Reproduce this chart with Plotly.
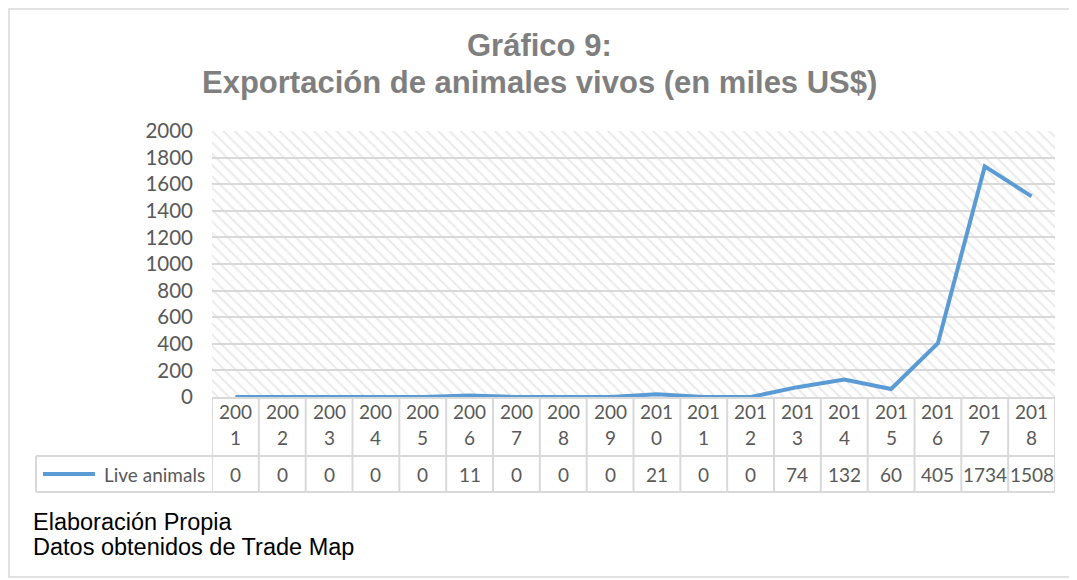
import plotly.graph_objects as go

# ---------------- data ----------------
years = ["2001", "2002", "2003", "2004", "2005", "2006", "2007", "2008", "2009",
         "2010", "2011", "2012", "2013", "2014", "2015", "2016", "2017", "2018"]
live_animals = [0, 0, 0, 0, 0, 11, 0, 0, 0, 21, 0, 0, 74, 132, 60, 405, 1734, 1508]
series_name = "Live animals"
y_ticks = [0, 200, 400, 600, 800, 1000, 1200, 1400, 1600, 1800, 2000]
title_line1 = "Gráfico 9:"
title_line2 = "Exportación de animales vivos (en miles US$)"
foot1 = "Elaboración Propia"
foot2 = "Datos obtenidos de Trade Map"

# ---------------- layout geometry (page pixels) ----------------
W, H = 1077, 580
OFF = 8  # default page body margin
PL, PR, PT, PB = 212, 1055, 131, 397  # plot area in page pixels
pw, ph = PR - PL, PB - PT


def px(x):
    return (x - PL) / pw


def py(y):
    return (PB - y) / ph


BLUE = "#5b9bd5"
GRID = "#d9d9d9"
TXT = "#595959"
FONT = "Lato"
TSIZE = 19

n = len(years)
xs = list(range(n))

fig = go.Figure()

# hatched plot-area background (on base axes spanning [0,1])
fig.add_trace(go.Scatter(
    x=[0, 1, 1, 0, 0], y=[0, 0, 1, 1, 0], mode="lines", fill="toself",
    line=dict(width=0), fillcolor="rgba(0,0,0,0)",
    fillpattern=dict(shape="\\", fgcolor="#d6d6d6", bgcolor="rgba(0,0,0,0)",
                     size=8, solidity=0.25),
    hoverinfo="skip", showlegend=False, xaxis="x", yaxis="y"))

# data line
fig.add_trace(go.Scatter(
    x=xs, y=live_animals, mode="lines", name=series_name,
    line=dict(color=BLUE, width=4), showlegend=False,
    xaxis="x2", yaxis="y2"))

fig.update_layout(
    width=W - OFF, height=H - OFF,
    margin=dict(l=PL - OFF, r=W - PR, t=PT - OFF, b=H - PB, autoexpand=False),
    paper_bgcolor="white", plot_bgcolor="white",
    xaxis=dict(range=[0, 1], visible=False, fixedrange=True),
    yaxis=dict(range=[0, 1], visible=False, fixedrange=True),
    xaxis2=dict(overlaying="x", range=[-0.5, n - 0.5], visible=False),
    yaxis2=dict(overlaying="y", range=[0, 2000], tickvals=y_ticks,
                showgrid=True, gridcolor=GRID, gridwidth=1.5,
                zeroline=False, showline=False, ticks="",
                tickfont=dict(family=FONT, size=20.5, color=TXT),
                ticklabelstandoff=18, side="left"),
    showlegend=False,
)

shapes = []
# outer chart border
shapes.append(dict(type="rect", xref="paper", yref="paper",
                   x0=px(OFF + 1), x1=px(1073), y0=py(577), y1=py(OFF + 1),
                   line=dict(color=GRID, width=1.5), layer="below"))
# table horizontal lines
for yy, x0, lay in [(PB + 1, 0, "below"), (456, px(36), "above"),
                    (492, px(36), "above")]:
    shapes.append(dict(type="line", xref="paper", yref="paper",
                       x0=x0, x1=1.0, y0=py(yy), y1=py(yy), layer=lay,
                       line=dict(color=GRID, width=2)))
# table vertical lines (category boundaries)
for k in range(n + 1):
    shapes.append(dict(type="line", xref="x2", yref="paper",
                       x0=k - 0.5, x1=k - 0.5, y0=py(492), y1=py(PB + 1),
                       line=dict(color=GRID, width=2)))
# legend cell left edge
shapes.append(dict(type="line", xref="paper", yref="paper",
                   x0=px(36), x1=px(36), y0=py(492), y1=py(456),
                   line=dict(color=GRID, width=2)))
# legend key line
shapes.append(dict(type="line", xref="paper", yref="paper",
                   x0=px(43), x1=px(95), y0=py(474), y1=py(474),
                   line=dict(color=BLUE, width=4)))
fig.update_layout(shapes=shapes)


def note(x, y, text, xref="paper", xanchor="center", size=TSIZE,
         family=FONT, color=TXT):
    return dict(x=x, y=y, xref=xref, yref="paper", text=text,
                xanchor=xanchor, yanchor="middle", showarrow=False,
                font=dict(family=family, size=size, color=color))


ann = []
for i, (yr, v) in enumerate(zip(years, live_animals)):
    ann.append(note(i, py(411), yr[:3], xref="x2"))
    ann.append(note(i, py(437), yr[3:], xref="x2"))
    ann.append(note(i, py(474), str(v), xref="x2"))
ann.append(note(px(102), py(474), series_name, xanchor="left"))
# title
ann.append(note(px(539), py(45), "<b>" + title_line1 + "</b>", size=31,
                family="Liberation Sans", color="#7f7f7f"))
ann.append(note(px(539), py(82), "<b>" + title_line2 + "</b>", size=31,
                family="Liberation Sans", color="#7f7f7f"))
# footnotes
ann.append(note(px(31), py(522), foot1, xanchor="left", size=23.5,
                family="Liberation Sans", color="black"))
ann.append(note(px(31), py(547), foot2, xanchor="left", size=23.5,
                family="Liberation Sans", color="black"))
fig.update_layout(annotations=ann)

fig.write_html("out.html")
